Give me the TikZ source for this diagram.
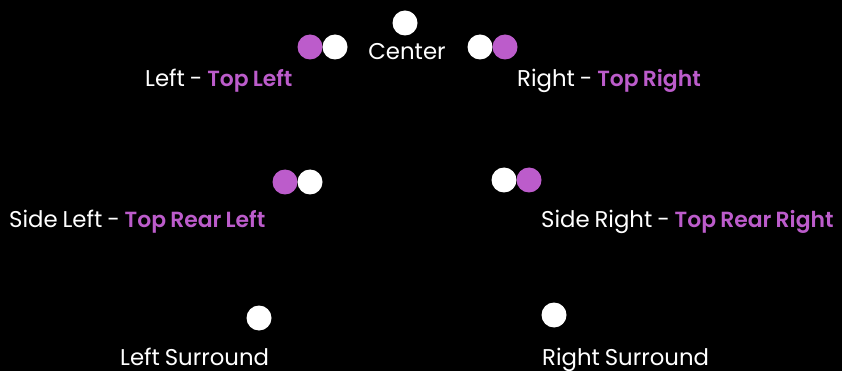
\documentclass[tikz,border=0pt]{standalone}
\usepackage{fontspec}
\setmainfont{Poppins}[WordSpace=0.8]
\newfontfamily\accfont{Poppins SemiBold}[Scale=0.96,WordSpace=0.8]
\definecolor{accent}{HTML}{BC5CCB}
\newcommand{\acc}[1]{{\accfont\color{accent}#1}}
\begin{document}
\begin{tikzpicture}[x=1pt,y=-1pt,
  spk/.style={circle,fill=white,draw=none,minimum size=25pt,inner sep=0pt},
  spktop/.style={spk,fill=accent},
  lbl/.style={text=white,font=\fontsize{22.8}{27}\selectfont,inner sep=0pt,anchor=base west}]
\fill[black] (0,0) rectangle (842,371);
\useasboundingbox (0,0) rectangle (842,371);
% front row
\node[spk] (c) at (405,23) {};
\node[lbl,anchor=base] (clbl) at (407,60) {Center};
\node[spktop] (ltop) at (310,47) {};
\node[spk] (l) at (335,47) {};
\node[lbl] (llbl) at (145,87) {Left - \acc{Top Left}};
\node[spk] (r) at (480,47) {};
\node[spktop] (rtop) at (505,47) {};
\node[lbl] (rlbl) at (517,87) {Right - \acc{Top Right}};
% side row
\node[spktop] (sltop) at (285,182) {};
\node[spk] (sl) at (310,182) {};
\node[lbl] (sllbl) at (9,227) {Side Left - \acc{Top Rear Left}};
\node[spk] (sr) at (504,180) {};
\node[spktop] (srtop) at (529,180) {};
\node[lbl] (srlbl) at (541,227) {Side Right - \acc{Top Rear Right}};
% surround row
\node[spk] (ls) at (259,318) {};
\node[lbl] (lslbl) at (120,365) {Left Surround};
\node[spk] (rs) at (554,315) {};
\node[lbl] (rslbl) at (542,365) {Right Surround};
\end{tikzpicture}
\end{document}
